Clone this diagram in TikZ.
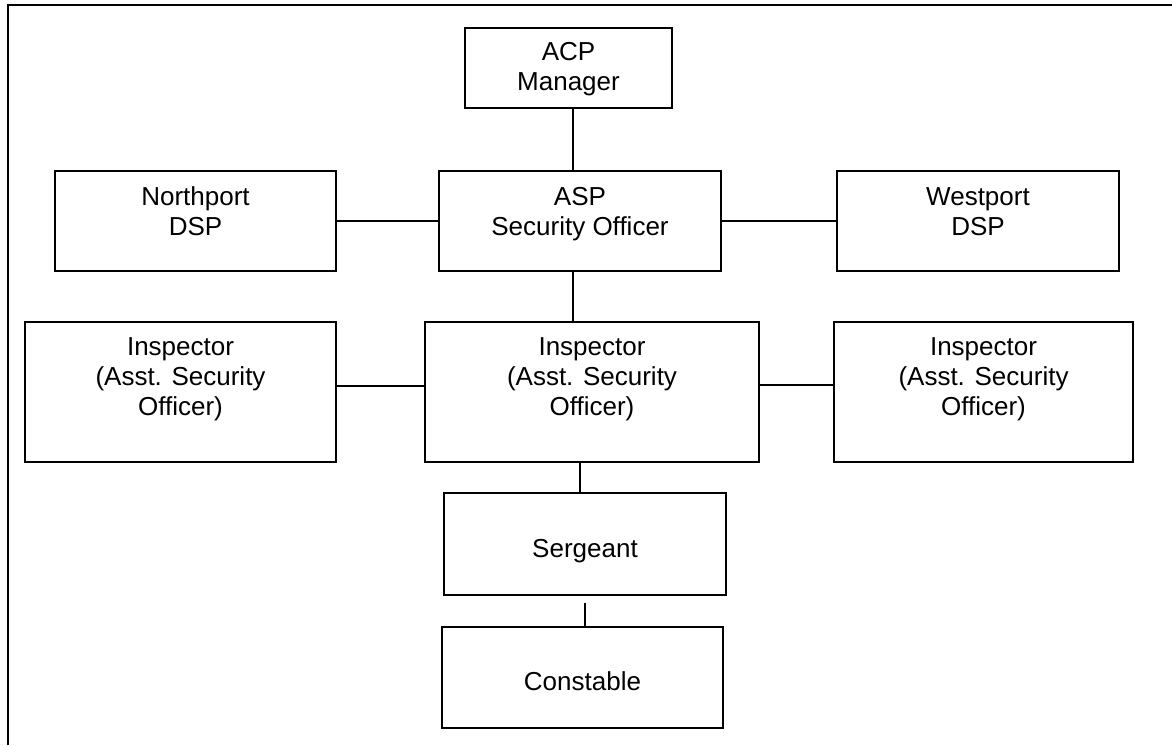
\documentclass[tikz,border=0pt]{standalone}
\usepackage{fontspec}
\setmainfont{Liberation Sans}
\usepackage{tikz}
\usetikzlibrary{shapes}
\tikzset{
  main node/.style={rectangle,draw,line width=1.6pt,inner sep=0pt,align=center,font=\fontsize{26}{30}\selectfont},
  edge/.style={line width=1.6pt}
}

\begin{document}
\begin{tikzpicture}[x=1pt,y=-1pt]
    \useasboundingbox (0,0) rectangle (1172,745);
    \draw [line width=2.5pt] (8,745) -- (8,5) -- (1172,5);
    \node [main node,minimum width=207pt,text height=62pt,text depth=18pt] (1) at (568.5,68) {ACP\\Manager};
    \node [main node,minimum width=282pt,text height=64pt,text depth=36pt] (2) at (580,221) {ASP\\Security Officer};
    \node [main node,minimum width=281pt,text height=64pt,text depth=36pt] (3) at (195.5,221) {Northport\\DSP};
    \node [main node,minimum width=282pt,text height=64pt,text depth=36pt] (4) at (978,221) {Westport\\DSP};
    \node [main node,minimum width=311pt,text height=93pt,text depth=47pt] (5) at (180.5,392) {Inspector\\(Asst. Security\\Officer)};
    \node [main node,minimum width=334pt,text height=93pt,text depth=47pt] (6) at (592,392) {Inspector\\(Asst. Security\\Officer)};
    \node [main node,minimum width=299pt,text height=93pt,text depth=47pt] (7) at (983.5,392) {Inspector\\(Asst. Security\\Officer)};
    \node [main node,minimum width=282pt,text height=64pt,text depth=38pt] (8) at (585,544) {Sergeant};
    \node [main node,minimum width=281pt,text height=63pt,text depth=38pt] (9) at (582.5,677.5) {Constable};

    \draw [edge] ([xshift=4.5pt]1.south) -- ([xshift=-7pt]2.north);
    \draw [edge] (3.east) -- (2.west);
    \draw [edge] (2.east) -- (4.west);
    \draw [edge] ([xshift=-7pt]2.south) -- ([xshift=-19pt]6.north);
    \draw [edge] ([yshift=6pt]5.east) -- ([yshift=6pt]6.west);
    \draw [edge] ([yshift=7pt]6.east) -- ([yshift=7pt]7.west);
    \draw [edge] ([xshift=-12pt]6.south) -- ([xshift=-5pt]8.north);
    \draw [edge] ([yshift=-7pt]8.south) -- ([xshift=2.5pt]9.north);
\end{tikzpicture}
\end{document}
